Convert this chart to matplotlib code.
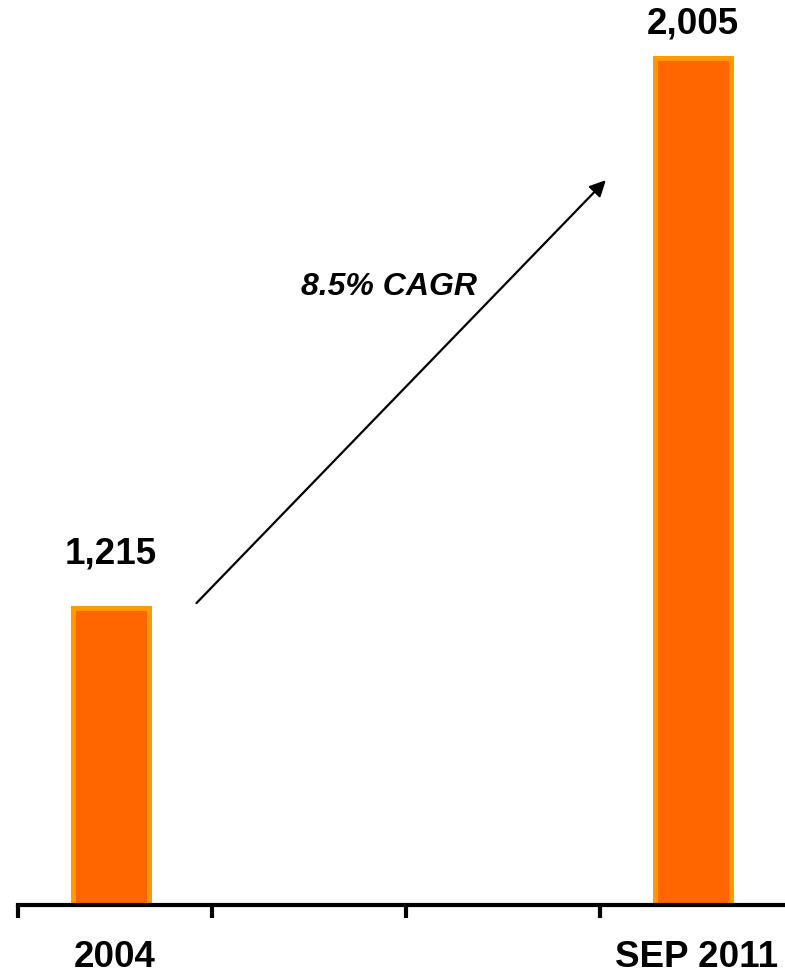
import matplotlib.pyplot as plt
import numpy as np

plt.rcParams['font.family'] = ['Liberation Sans', 'DejaVu Sans']

FILL = "#FF6600"
EDGE = "#FF9900"

# data
categories = ["2004", "", "", "SEP 2011"]
values = [1215, np.nan, np.nan, 2005]
value_labels = ["1,215", "", "", "2,005"]
label_offsets = [26, 0, 0, 12]  # points above bar top
cagr_text = "8.5% CAGR"

fig = plt.figure(figsize=(7.85, 9.73), dpi=100)
# axis spans slightly past the right edge like the original slide
ax = fig.add_axes([18 / 785, 68 / 973, 776 / 785, 905 / 973])

x = np.arange(len(categories))
ax.bar(x - 0.02, values, width=0.39, color=FILL, edgecolor=EDGE, linewidth=3.6)

for xi, v, lab, off in zip(x, values, value_labels, label_offsets):
    if lab:
        ax.annotate(lab, (xi - 0.02, v), xytext=(0, off), textcoords="offset points",
                    ha="center", va="bottom", fontsize=26.5, fontweight="bold")

ax.set_xlim(-0.5, len(categories) - 0.5)
ax.set_ylim(788, 2089)

# growth arrow
ax.annotate("", xy=(2.53, 1830), xytext=(0.42, 1222),
            arrowprops=dict(arrowstyle="-|>", color="black", lw=1.6,
                            mutation_scale=24, shrinkA=0, shrinkB=0))
ax.text(1.41, 1676, cagr_text, ha="center", va="center", fontsize=23,
        fontweight="bold", fontstyle="italic")

# ticks at category boundaries, labels at centres
ax.set_xticks(np.arange(-0.5, len(categories), 1))
ax.set_xticklabels([])
ax.set_xticks(x, minor=True)
ax.set_xticklabels(categories, minor=True, fontsize=26.5, fontweight="bold")
ax.tick_params(which="major", axis="x", length=9, width=3, direction="out")
ax.tick_params(which="minor", axis="x", length=0, pad=25)

ax.set_yticks([])
for side in ["left", "right", "top"]:
    ax.spines[side].set_visible(False)
ax.spines["bottom"].set_linewidth(3)

fig.savefig("out.png", dpi=100)
